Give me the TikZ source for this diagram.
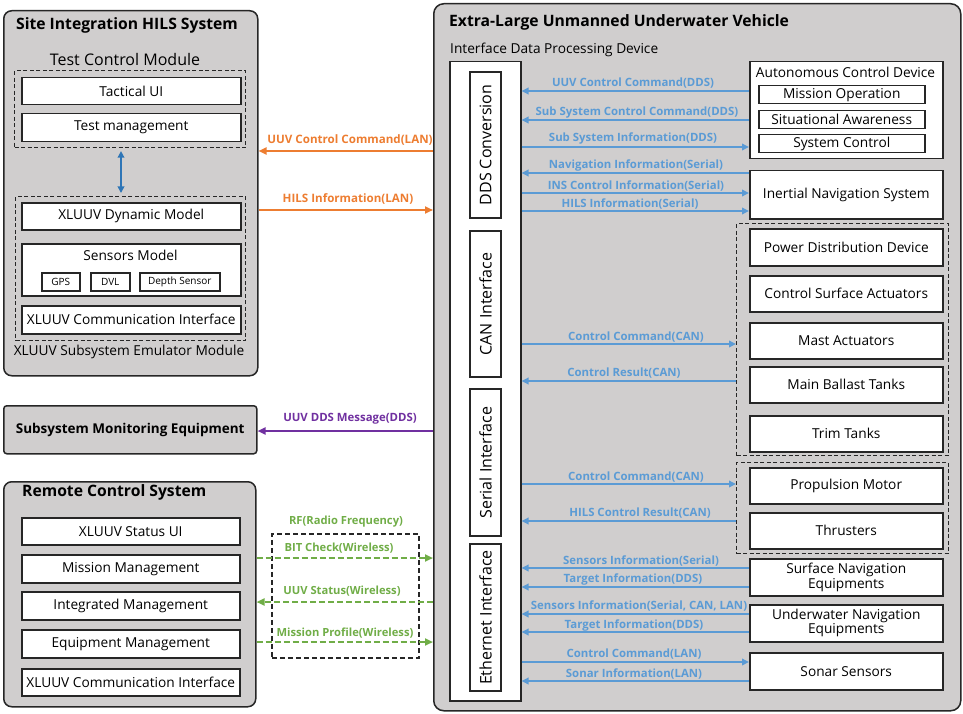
\documentclass[tikz,border=0pt]{standalone}
\usepackage{fontspec}
\setmainfont{Open Sans}
\usetikzlibrary{arrows.meta}
\definecolor{panelgray}{HTML}{D0CECE}
\definecolor{bluel}{HTML}{5B9BD5}
\definecolor{blued}{HTML}{2E75B6}
\definecolor{orng}{HTML}{ED7D31}
\definecolor{grn}{HTML}{70AD47}
\definecolor{purp}{HTML}{7030A0}
\definecolor{edge}{HTML}{262626}
\newcommand\fsz[1]{\fontsize{#1}{#1}\selectfont}
% \pbox[opts]{name}{x1}{y1}{x2}{y2}{text}
\newcommand\pbox[7][]{\node[wbox,#1,minimum width={(#5-#3)*1pt},minimum height={(#6-#4)*1pt}] (#2) at (#3,#4) {#7};}
\begin{document}
\begin{tikzpicture}[x=1pt,y=-1pt,
  panel/.style={draw=edge, line width=1.5pt, fill=panelgray, rounded corners=8pt, inner sep=0pt, anchor=north west},
  wbox/.style={draw=edge, line width=1.5pt, fill=white, inner sep=0pt, anchor=north west, align=center, font=\fsz{13.7}},
  dgroup/.style={draw=edge, line width=1.1pt, dash pattern=on 4pt off 2.5pt, inner sep=0pt, anchor=north west},
  vbox/.style={draw=edge, line width=1.5pt, fill=white, inner sep=0pt, anchor=center, rotate=90, minimum height=31pt, font=\fsz{16}},
  ttl/.style={font=\bfseries\fsz{15.7}, inner sep=0pt},
  plain/.style={font=\fsz{13.7}, inner sep=0pt},
  blab/.style={font=\bfseries\fsz{11.4}, text=bluel, inner sep=0pt},
  olab/.style={font=\bfseries\fsz{11.6}, text=orng, inner sep=0pt},
  glab/.style={font=\bfseries\fsz{11.2}, text=grn, inner sep=0pt},
  plab/.style={font=\bfseries\fsz{11.4}, text=purp, inner sep=0pt},
  barr/.style={draw=bluel, line width=2pt, -{Triangle[length=7pt,width=6.5pt]}},
  oarr/.style={draw=orng, line width=2.2pt, -{Triangle[length=8pt,width=7pt]}},
  parr/.style={draw=purp, line width=2.2pt, -{Triangle[length=8pt,width=7pt]}},
  garr/.style={draw=grn, line width=2.2pt, dash pattern=on 6pt off 3pt, -{Triangle[length=8pt,width=7pt]}},
]
\useasboundingbox (0,0) rectangle (963,714);

% ---------------- Site Integration HILS System ----------------
\node[panel, minimum width=254pt, minimum height=365pt] (hils) at (3,10) {};
\node[ttl] (hilst) at (127,25) {Site Integration HILS System};
\node[plain, font=\fsz{16}] (tcmt) at (125,60) {Test Control Module};
\node[dgroup, minimum width=231pt, minimum height=77pt] (tcm) at (14,70) {};
\pbox{tui}{21}{77}{240}{104}{Tactical UI}
\pbox{tmg}{21}{113}{240}{141}{Test management}
\node[dgroup, minimum width=230pt, minimum height=144pt] (sem) at (15,196) {};
\pbox{dyn}{21}{202}{240}{229}{XLUUV Dynamic Model}
\pbox{sens}{21}{243}{240}{295}{}
\node[plain] (senst) at (130.5,255) {Sensors Model};
\pbox[font=\fsz{10}]{gps}{41}{272}{79}{290}{GPS}
\pbox[font=\fsz{10}]{dvl}{90}{272}{129}{290}{DVL}
\pbox[font=\fsz{10}]{dep}{139}{272}{219}{290}{Depth Sensor}
\pbox{xci}{21}{305}{240}{333}{XLUUV Communication Interface}
\node[plain] (semt) at (129,352) {XLUUV Subsystem Emulator Module};
\draw[draw=blued, line width=2pt, {Triangle[length=6.5pt,width=6.5pt]}-{Triangle[length=6.5pt,width=6.5pt]}, shorten <=3pt, shorten >=3pt] (tcm.south -| 121,0) -- (sem.north -| 121,0);

% ---------------- Subsystem Monitoring Equipment ----------------
\node[panel, rounded corners=3pt, minimum width=253pt, minimum height=48pt, font=\bfseries\fsz{13.5}] (sme) at (3,405) {Subsystem Monitoring Equipment};

% ---------------- Remote Control System ----------------
\node[panel, minimum width=252pt, minimum height=225pt] (rcs) at (3,481) {};
\node[ttl, anchor=west] (rcst) at (22,492) {Remote Control System};
\pbox{rsu}{21}{517}{239}{544}{XLUUV Status UI}
\pbox{rmm}{21}{554}{239}{582}{Mission Management}
\pbox{rim}{21}{591}{239}{619}{Integrated Management}
\pbox{rem}{21}{629}{239}{657}{Equipment Management}
\pbox{rci}{21}{668}{239}{695}{XLUUV Communication Interface}

% ---------------- Extra-Large UUV ----------------
\node[panel, rounded corners=10pt, minimum width=527pt, minimum height=707pt] (xl) at (433,3) {};
\node[ttl, anchor=west] (xlt) at (449,22) {Extra-Large Unmanned Underwater Vehicle};
\node[plain, anchor=west] (idpt) at (450,50) {Interface Data Processing Device};
\pbox{idp}{449}{61}{520}{700}{}
\node[vbox, minimum width=146pt] (dds) at (485.5,145) {DDS Conversion};
\node[vbox, minimum width=146pt] (can) at (485.5,304) {CAN Interface};
\node[vbox, minimum width=147pt] (ser) at (485.5,462.5) {Serial Interface};
\node[vbox, minimum width=147pt] (eth) at (485.5,617.5) {Ethernet Interface};

\pbox{acd}{749}{61}{942}{158}{}
\node[plain] (acdt) at (845.5,72) {Autonomous Control Device};
\pbox{mop}{758}{85}{924}{103}{Mission Operation}
\pbox{saw}{758}{110}{924}{128}{Situational Awareness}
\pbox{syc}{758}{134}{924}{152}{System Control}
\pbox{ins}{749}{170}{942}{218}{Inertial Navigation System}

\node[dgroup, minimum width=212pt, minimum height=232pt] (grp1) at (736,223) {};
\pbox{pdd}{749}{228}{942}{265}{Power Distribution Device}
\pbox{csa}{749}{275}{942}{311}{Control Surface Actuators}
\pbox{mast}{749}{322}{942}{358}{Mast Actuators}
\pbox{mbt}{749}{366}{942}{402}{Main Ballast Tanks}
\pbox{trim}{749}{415}{942}{451}{Trim Tanks}

\node[dgroup, minimum width=212pt, minimum height=91pt] (grp2) at (736,462) {};
\pbox{prop}{749}{467}{942}{503}{Propulsion Motor}
\pbox{thr}{749}{512}{942}{548}{Thrusters}

\pbox[font=\fsz{13.7}\linespread{0.82}\selectfont]{sne}{749}{558}{942}{595}{Surface Navigation\\Equipments}
\pbox[font=\fsz{13.7}\linespread{0.82}\selectfont]{une}{749}{604}{942}{641}{Underwater Navigation\\Equipments}
\pbox{son}{749}{652}{942}{689}{Sonar Sensors}

% ---------------- Blue arrows inside the vehicle ----------------
\draw[barr] (acd.west |- 0,91) -- (idp.east |- 0,91);
\node[blab] (l1) at (633,83) {UUV Control Command(DDS)};
\draw[barr] (acd.west |- 0,120) -- (idp.east |- 0,120);
\node[blab] (l2) at (637,113) {Sub System Control Command(DDS)};
\draw[barr] (idp.east |- 0,147) -- (acd.west |- 0,147);
\node[blab] (l3) at (633,139) {Sub System Information(DDS)};
\draw[barr] (ins.west |- 0,173) -- (idp.east |- 0,173);
\node[blab] (l4) at (636,166) {Navigation Information(Serial)};
\draw[barr] (idp.east |- 0,193) -- (ins.west |- 0,193);
\node[blab] (l5) at (636,186) {INS Control Information(Serial)};
\draw[barr] (idp.east |- 0,211) -- (ins.west |- 0,211);
\node[blab] (l6) at (630,204) {HILS Information(Serial)};

\draw[barr] (idp.east |- 0,344) -- (grp1.west |- 0,344);
\node[blab] (l7) at (636,337) {Control Command(CAN)};
\draw[barr] (grp1.west |- 0,381) -- (idp.east |- 0,381);
\node[blab] (l8) at (624,373) {Control Result(CAN)};

\draw[barr] (idp.east |- 0,484) -- (grp2.west |- 0,484);
\node[blab] (l9) at (636,477) {Control Command(CAN)};
\draw[barr] (grp2.west |- 0,521) -- (idp.east |- 0,521);
\node[blab] (l10) at (640,513) {HILS Control Result(CAN)};

\draw[barr] (sne.west |- 0,568) -- (idp.east |- 0,568);
\node[blab] (l11) at (641,561) {Sensors Information(Serial)};
\draw[barr] (sne.west |- 0,587) -- (idp.east |- 0,587);
\node[blab] (l12) at (633,580) {Target Information(DDS)};
\draw[barr] (une.west |- 0,614) -- (idp.east |- 0,614);
\node[blab] (l13) at (639,606) {Sensors Information(Serial, CAN, LAN)};
\draw[barr] (une.west |- 0,632) -- (idp.east |- 0,632);
\node[blab] (l14) at (634,626) {Target Information(DDS)};
\draw[barr] (idp.east |- 0,662) -- (son.west |- 0,662);
\node[blab] (l15) at (634,654) {Control Command(LAN)};
\draw[barr] (son.west |- 0,681) -- (idp.east |- 0,681);
\node[blab] (l16) at (634,674) {Sonar Information(LAN)};

% ---------------- Links between systems ----------------
\draw[oarr] (xl.west |- 0,151) -- (hils.east |- 0,151);
\node[olab] (o1) at (350,140) {UUV Control Command(LAN)};
\draw[oarr] (hils.east |- 0,210) -- (xl.west |- 0,210);
\node[olab] (o2) at (348,199) {HILS Information(LAN)};

\draw[parr] (xl.west |- 0,431) -- (sme.east |- 0,431);
\node[plab] (p1) at (350,419) {UUV DDS Message(DDS)};

\node[dgroup, line width=1.5pt, dash pattern=on 5pt off 3pt, minimum width=147pt, minimum height=124pt] (rf) at (271,533) {};
\node[glab] (g0) at (346,522) {RF(Radio Frequency)};
\draw[garr] (rcs.east |- 0,558) -- (xl.west |- 0,558);
\node[glab] (g1) at (339,548) {BIT Check(Wireless)};
\draw[garr] (xl.west |- 0,602) -- (rcs.east |- 0,602);
\node[glab] (g2) at (342,591) {UUV Status(Wireless)};
\draw[garr] (rcs.east |- 0,642) -- (xl.west |- 0,642);
\node[glab] (g3) at (345,633) {Mission Profile(Wireless)};
\end{tikzpicture}
\end{document}
